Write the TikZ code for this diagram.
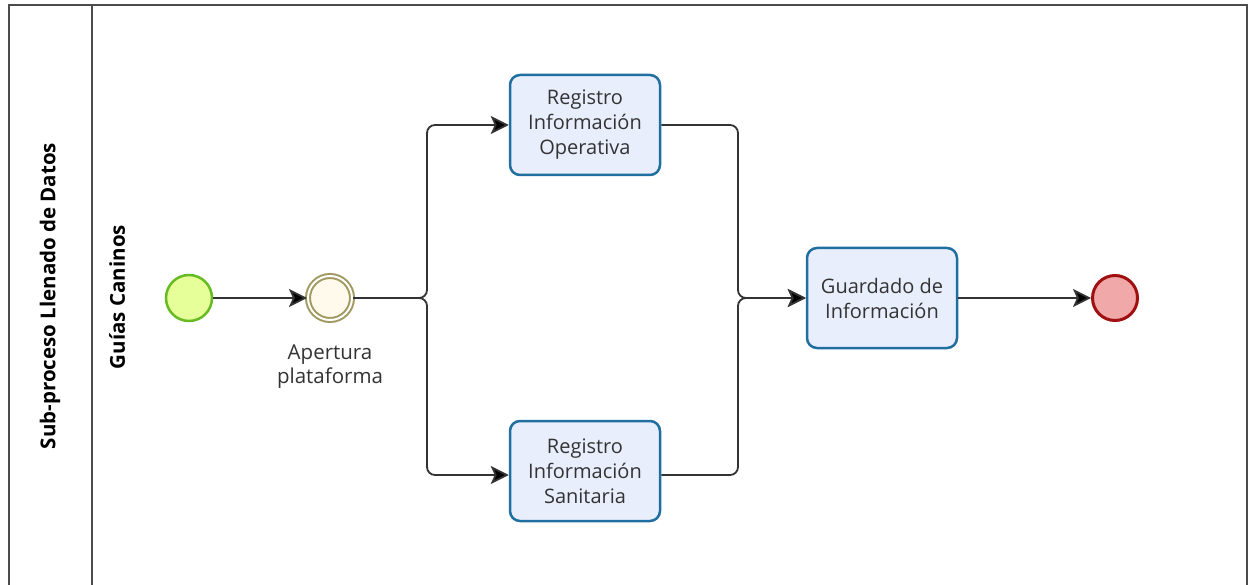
\documentclass[tikz,border=0pt]{standalone}
\usepackage{fontspec}
\setmainfont{Open Sans}
\usetikzlibrary{arrows.meta}
\definecolor{taskfill}{HTML}{E8EEFC}
\definecolor{taskdraw}{HTML}{1F6FA0}
\definecolor{startfill}{HTML}{E6FF99}
\definecolor{startdraw}{HTML}{66BB22}
\definecolor{midfill}{HTML}{FFFAEB}
\definecolor{middraw}{HTML}{A09A60}
\definecolor{endfill}{HTML}{F0A8A8}
\definecolor{enddraw}{HTML}{A01010}
\definecolor{flow}{HTML}{333333}
\begin{document}
\begin{tikzpicture}[x=1pt,y=-1pt,
  taskbox/.style={draw=taskdraw,fill=taskfill,line width=2.5pt,rounded corners=10pt,
    minimum width=150pt,minimum height=100pt,inner sep=0pt,align=center,
    font=\fontsize{20}{25}\selectfont,text=black!80},
  startev/.style={circle,draw=startdraw,fill=startfill,line width=2.5pt,minimum size=46pt,inner sep=0pt},
  midev/.style={circle,draw=middraw,fill=midfill,line width=2pt,double=white,double distance=2pt,minimum size=44pt,inner sep=0pt},
  endev/.style={circle,draw=enddraw,fill=endfill,line width=3pt,minimum size=45pt,inner sep=0pt},
  flowline/.style={draw=flow,line width=1.8pt,rounded corners=8pt,-{Stealth[length=18pt,width=18pt,inset=4pt,fill=black]}},
  lanelabel/.style={font=\bfseries\fontsize{20.5}{24}\selectfont,text=black,rotate=90},
  evlabel/.style={font=\fontsize{20.5}{24}\selectfont,text=black!80,align=center}
]
\useasboundingbox (0,0) rectangle (1249,585);
% pool frame
\draw[draw=black!70,line width=1.5pt] (9,600) -- (9,5) -- (1247,5) -- (1247,600);
\draw[draw=black!70,line width=1.5pt] (92,5) -- (92,600);
\node[lanelabel] (pool) at (50,296) {Sub-proceso Llenado de Datos};
\node[lanelabel] (lane) at (117,297) {Guías Caninos};

\node[startev] (start) at (189,298) {};
\node[midev] (mid) at (330,298) {};
\node[evlabel,anchor=north] (midlbl) at (330,341) {Apertura\\plataforma};
\node[taskbox] (t1) at (585,125) {Registro\\Información\\Operativa};
\node[taskbox] (t2) at (585,471) {Registro\\Información\\Sanitaria};
\node[taskbox] (t3) at (882,298) {Guardado de\\Información};
\node[endev] (end) at (1115,298) {};

\coordinate (sp) at (427,298);
\coordinate (mg) at (738,298);

\draw[flowline] (start) -- (mid);
\draw[flowline] (mid.east) -- (sp) |- (t1.west);
\draw[flowline] (mid.east) -- (sp) |- ([yshift=-4pt]t2.west);
\draw[flowline] ([yshift=0pt]t1.east) -| (mg) -- (t3.west);
\draw[flowline] ([yshift=-4pt]t2.east) -| (mg) -- (t3.west);
\draw[flowline] (t3) -- (end);
\end{tikzpicture}
\end{document}
